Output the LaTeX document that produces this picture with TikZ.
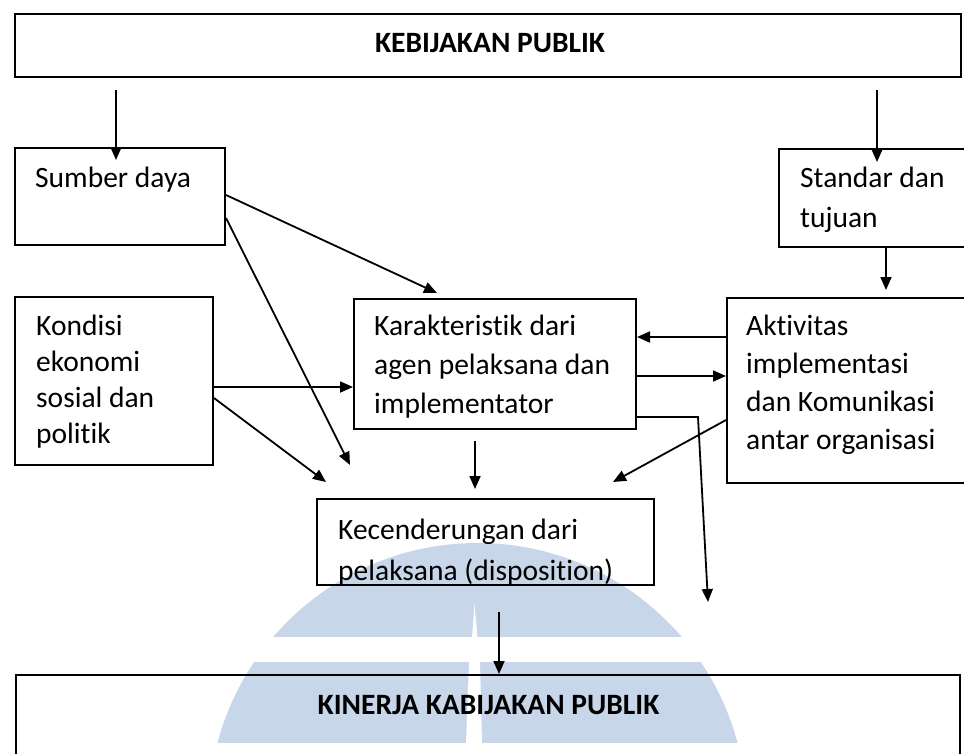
\documentclass[tikz,border=0pt]{standalone}
\usepackage{fontspec}
\setmainfont[Ligatures=NoCommon]{Carlito}
\usetikzlibrary{arrows.meta}
\definecolor{wmblue}{RGB}{200,214,233}
\begin{document}
\begin{tikzpicture}[x=1pt,y=-1pt,
  box/.style={draw=black, line width=2pt, inner sep=0pt, anchor=north west},
  arr/.style={line width=1.8pt, -{Triangle[length=13pt,width=11pt]}},
  txt/.style={font=\fontsize{29.5}{#1}\selectfont, inner sep=0pt, anchor=base west, align=left},
  ttl/.style={font=\bfseries\fontsize{29.5}{36}\selectfont, inner sep=0pt, anchor=base},
]
\useasboundingbox (0,0) rectangle (964,753);
\clip (0,0) rectangle (964,753);
% watermark
\begin{scope}
  \clip (0,0) rectangle (964,742);
  \fill[wmblue] (477.5,812) circle[radius=269pt];
\end{scope}
\fill[white] (150,637) rectangle (800,662);
\fill[white] (474.5,604) -- (477.5,637) -- (472,637) -- cycle;
\fill[white] (469,662) -- (480,662) -- (482,743) -- (466,743) -- cycle;

% boxes
\node[box, minimum width=946pt, minimum height=63pt] (keb) at (14,13) {};
\node[box, minimum width=210pt, minimum height=97pt] (sumber) at (14,147) {};
\node[box, minimum width=210pt, minimum height=98pt] (standar) at (778,148) {};
\node[box, minimum width=198pt, minimum height=168pt] (kondisi) at (14,296) {};
\node[box, minimum width=282pt, minimum height=130pt] (karak) at (353,298) {};
\node[box, minimum width=260pt, minimum height=185pt] (aktiv) at (726,297) {};
\node[box, minimum width=337pt, minimum height=86pt] (kec) at (316,498) {};
\node[box, minimum width=944pt, minimum height=120pt] (kinerja) at (15,674) {};

% texts (anchor = baseline of the last line)
\node[ttl] (kebt) at (490,52) {KEBIJAKAN PUBLIK};
\node[txt=38] (sumbert) at (35,187) {Sumber daya};
\node[txt=40] (standart) at (800,227) {Standar dan\\tujuan};
\node[txt=36] (kondisit) at (36,443) {Kondisi\\ekonomi\\sosial dan\\politik};
\node[txt=39] (karakt) at (374,413) {Karakteristik dari\\agen pelaksana dan\\implementator};
\node[txt=38] (aktivt) at (746,449) {Aktivitas\\implementasi\\dan Komunikasi\\antar organisasi};
\begin{scope}
  \clip (kec.north west) rectangle (kec.south east);
  \node[txt=41] (kect) at (338,580) {Kecenderungan dari\\pelaksana (disposition)};
\end{scope}
\node[ttl] (kint) at (488.5,714) {KINERJA KABIJAKAN PUBLIK};

% connector points
\coordinate (p1s) at ([xshift=102pt,yshift=-12pt]keb.south west);
\coordinate (p1e) at ([xshift=102pt,yshift=-13pt]sumber.north west);
\coordinate (p2s) at ([xshift=863pt,yshift=-12pt]keb.south west);
\coordinate (p2e) at ([xshift=99pt,yshift=-14pt]standar.north west);
\coordinate (s1) at ([yshift=-48pt]sumber.north east);
\coordinate (s1e) at ([xshift=84pt,yshift=5pt]karak.north west);
\coordinate (s2) at ([yshift=-71pt]sumber.north east);
\coordinate (s2e) at ([xshift=34pt,yshift=33pt]kec.north west);
\coordinate (k1) at ([yshift=-91pt]kondisi.north east);
\coordinate (k1e) at ([yshift=-89pt]karak.north west);
\coordinate (k2) at ([yshift=-102pt]kondisi.north east);
\coordinate (k2e) at ([xshift=10pt,yshift=16pt]kec.north west);
\coordinate (ci) at ([yshift=-39pt]karak.north east);
\coordinate (co) at ([yshift=-78pt]karak.north east);
\coordinate (cel) at ([yshift=-119pt]karak.north east);
\coordinate (ao1) at ([yshift=-40pt]aktiv.north west);
\coordinate (ain) at ([yshift=-79pt]aktiv.north west);
\coordinate (ao2) at ([yshift=-123pt]aktiv.north west);
\coordinate (ao2e) at ([xshift=297pt,yshift=16pt]kec.north west);
\coordinate (kd) at ([xshift=122pt,yshift=-11pt]karak.south west);
\coordinate (kde) at ([xshift=159pt,yshift=9pt]kec.north west);
\coordinate (elb) at (698,417);
\coordinate (ele) at (708,602);
\coordinate (sd) at ([xshift=108pt]standar.south west);
\coordinate (sde) at ([xshift=160pt,yshift=7pt]aktiv.north west);
\coordinate (kc) at ([xshift=183pt,yshift=-26pt]kec.south west);
\coordinate (kce) at ([xshift=484pt]kinerja.north west);

% connectors
\draw[arr] (p1s) -- (p1e);
\draw[arr] (p2s) -- (p2e);
\draw[arr] (s1) -- (s1e);
\draw[arr] (s2) -- (s2e);
\draw[arr] (k1) -- (k1e);
\draw[arr] (k2) -- (k2e);
\draw[arr] (ao1) -- (ci);
\draw[arr] (co) -- (ain);
\draw[arr] (ao2) -- (ao2e);
\draw[arr] (kd) -- (kde);
\draw[arr] (cel) -- (elb) -- (ele);
\draw[arr] (sd) -- (sde);
\draw[arr] (kc) -- (kce);
\end{tikzpicture}
\end{document}
